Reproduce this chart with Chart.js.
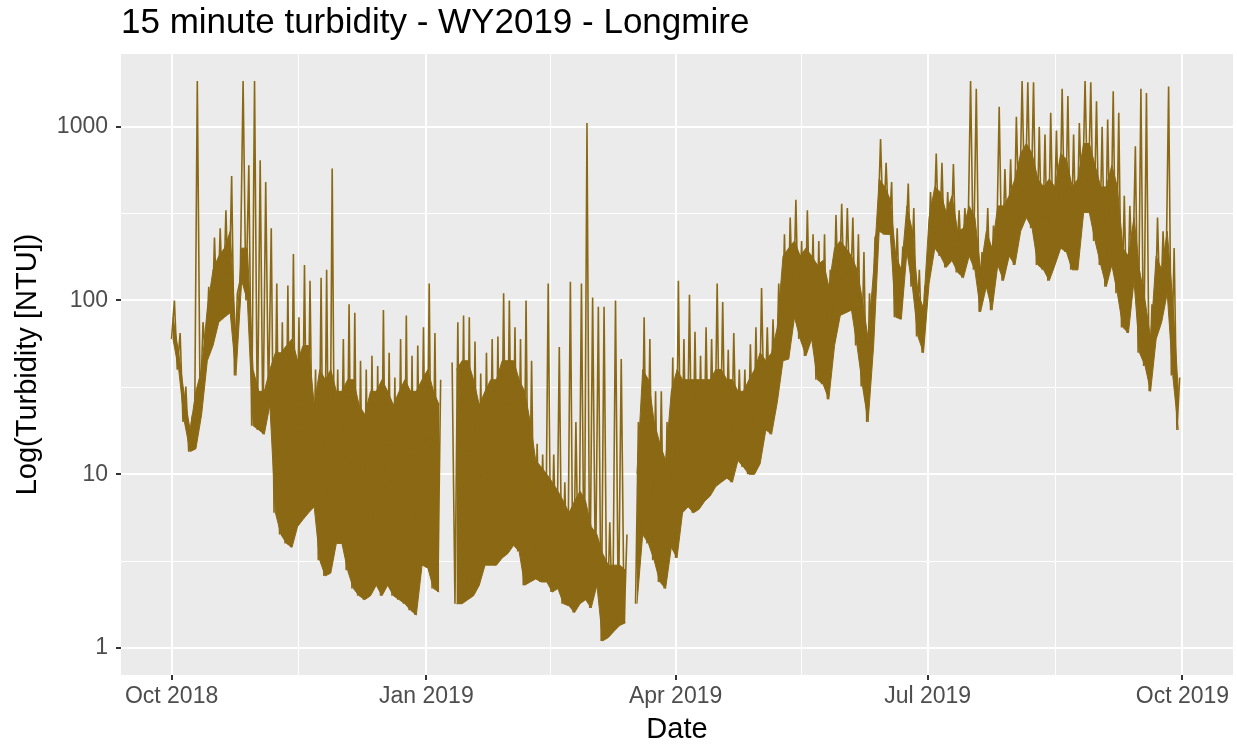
<!DOCTYPE html>
<html>
<head>
<meta charset="utf-8">
<title>15 minute turbidity - WY2019 - Longmire</title>
<script src="https://cdn.jsdelivr.net/npm/chart.js@4.4.1/dist/chart.umd.min.js"></script>
<style>
  html, body { margin: 0; padding: 0; background: #ffffff; }
</style>
</head>
<body>
<canvas id="turbidityChart" width="1237" height="744"></canvas>
<script>
// labels
var chartTitle = "15 minute turbidity - WY2019 - Longmire";
var xTitle = "Date";
var yTitle = "Log(Turbidity [NTU])";

// x axis : days since 1 Oct 2018
var xTickDays = [0, 92, 182, 273, 365];
var xTickLabels = ["Oct 2018", "Jan 2019", "Apr 2019", "Jul 2019", "Oct 2019"];
var xMinorDays = [46, 137, 227.5, 319];

// y axis (log)
var yTickValues = [1, 10, 100, 1000];
var yTickLabels = ["1", "10", "100", "1000"];
var yMinorValues = [3.162, 31.62, 316.2];

// first day of each month, Oct 2018 .. Oct 2019
var monthStartDays = [0, 31, 61, 92, 123, 151, 182, 212, 243, 273, 304, 335, 365];

// about every 2 days :
// low = bottom of the trace, core = top of the solid mass, high = tallest spike
var octLow  = [60, 40, 20, 13.5, 14, 22, 45, 55, 75, 80, 85, 37, 130, 100, 19];
var octCore = [80, 50, 28, 18, 30, 40, 90, 150, 180, 200, 250, 60, 200, 200, 40];
var octHigh = [100, 65, 32, 20, 1830, 75, 120, 230, 260, 330, 520, 110, 1830, 600, 1830];
var novLow  = [18, 17, 25, 6, 4.5, 4, 3.8, 5, 5.5, 6, 6.5, 3.2, 2.6, 2.7, 4];
var novCore = [30, 30, 40, 50, 50, 55, 60, 45, 55, 55, 25, 40, 35, 40, 30];
var novHigh = [640, 480, 260, 125, 75, 122, 185, 80, 160, 130, 40, 135, 150, 575, 40];
var decLow  = [4, 2.8, 2.2, 2.0, 1.9, 2.0, 2.3, 2.0, 2.3, 2.0, 1.9, 1.8, 1.65, 1.55, 3.0];
var decCore = [30, 35, 35, 25, 22, 30, 30, 35, 30, 25, 30, 35, 30, 30, 35];
var decHigh = [60, 95, 85, 45, 40, 48, 42, 88, 50, 36, 60, 82, 48, 55, 70];
var janLow  = [2.9, 2.2, 2.1, null, null, 1.8, 1.8, 1.9, 2.0, 2.3, 3.0, 3.0, 3.0, 3.3, 3.5];
var janCore = [40, 30, 25, null, null, 40, 45, 45, 35, 25, 30, 35, 35, 45, 45];
var janHigh = [125, 65, 35, null, 44, 75, 82, 80, 58, 38, 50, 60, 62, 110, 100];
var febLow  = [3.9, 3.6, 2.3, 2.4, 2.5, 2.4, 2.4, 2.1, 2.2, 1.8, 1.75, 1.6, 1.8, 1.9];
var febCore = [45, 35, 30, 20, 12, 11, 10, 9, 8, 7, 6, 7, 8, 7];
var febHigh = [70, 60, 100, 45, 15, 13, 125, 13, 54, 9, 128, 20, 125, 1050];
var marLow  = [1.7, 2.3, 1.1, 1.15, 1.25, 1.35, 1.4, null, 1.8, 4.5, 4.0, 3.2, 2.4, 2.2, 3.8];
var marCore = [5, 4.5, 3.5, 3, 3, 3, 2.8, null, 10, 40, 35, 20, 15, 12, 30];
var marHigh = [104, 92, 92, 5.3, 100, 46, 4.5, null, 20, 80, 60, 30, 30, 20, 47];
var aprLow  = [3.3, 6.0, 6.5, 6.0, 6.3, 7, 7.5, 8.5, 9, 9.5, 9, 12, 11, 10, 10];
var aprCore = [40, 35, 35, 35, 35, 35, 35, 40, 40, 35, 35, 30, 30, 35, 40];
var aprHigh = [130, 60, 108, 66, 48, 70, 60, 125, 98, 52, 65, 40, 40, 56, 70];
var mayLow  = [11.5, 18, 17, 26, 45, 46, 80, 60, 48, 60, 35, 33, 27, 55, 82];
var mayCore = [50, 45, 50, 70, 180, 200, 220, 180, 200, 180, 160, 170, 120, 200, 220];
var mayHigh = [118, 70, 78, 125, 240, 300, 380, 220, 330, 240, 220, 240, 150, 310, 360];
var junLow  = [85, 88, 55, 32, 20, 55, 250, 240, 240, 80, 78, 190, 120, 62, 50];
var junCore = [200, 180, 150, 100, 60, 150, 500, 450, 380, 180, 150, 350, 250, 110, 90];
var junHigh = [340, 300, 240, 190, 110, 230, 850, 620, 480, 260, 200, 470, 340, 150, 120];
var julLow  = [125, 200, 180, 155, 170, 145, 135, 180, 150, 86, 120, 88, 160, 130, 180];
var julCore = [300, 450, 420, 320, 400, 250, 260, 350, 300, 150, 250, 200, 350, 350, 400];
var julHigh = [420, 700, 620, 420, 610, 330, 340, 1830, 1650, 190, 340, 270, 1300, 570, 650];
var augLow  = [160, 250, 300, 260, 160, 150, 130, 160, 200, 190, 150, 150, 320, 320, 220];
var augCore = [500, 700, 800, 700, 500, 450, 500, 450, 700, 650, 450, 500, 800, 800, 600];
var augHigh = [1140, 1830, 1800, 1800, 1000, 900, 1200, 950, 1650, 1500, 900, 1050, 1830, 1800, 1400];
var sepLow  = [160, 120, 160, 110, 70, 65, 130, 50, 42, 30, 60, 75, 110, 37, 18];
var sepCore = [450, 450, 600, 450, 200, 180, 300, 150, 100, 60, 180, 150, 250, 100, 30];
var sepHigh = [1000, 1100, 1600, 1200, 400, 350, 770, 1650, 1560, 95, 300, 250, 1700, 200, 36];

var monthLows  = [octLow, novLow, decLow, janLow, febLow, marLow, aprLow, mayLow, junLow, julLow, augLow, sepLow];
var monthCores = [octCore, novCore, decCore, janCore, febCore, marCore, aprCore, mayCore, junCore, julCore, augCore, sepCore];
var monthHighs = [octHigh, novHigh, decHigh, janHigh, febHigh, marHigh, aprHigh, mayHigh, junHigh, julHigh, augHigh, sepHigh];

// the trace swings low -> high -> low; the band fills low .. core
var tracePoints = [];
var bandLowPoints = [];
var bandCorePoints = [];
for (var m = 0; m < monthLows.length; m++) {
  var start = monthStartDays[m];
  var step = (monthStartDays[m + 1] - start) / monthLows[m].length;
  for (var i = 0; i < monthLows[m].length; i++) {
    tracePoints.push({ x: start + i * step, y: monthLows[m][i] });
    tracePoints.push({ x: start + (i + 0.5) * step, y: monthHighs[m][i] });
    bandLowPoints.push({ x: start + (i + 0.25) * step, y: monthLows[m][i] });
    bandCorePoints.push({ x: start + (i + 0.25) * step, y: monthCores[m][i] });
  }
}

var fontFamily = "'Liberation Sans', Arial, sans-serif";
var traceColor = "#8B6914";

function isIn(list, v) {
  for (var k = 0; k < list.length; k++) {
    if (Math.abs(list[k] - v) < 1e-6) return true;
  }
  return false;
}

// grey panel behind the grid
var panelPlugin = {
  id: "panel",
  beforeDraw: function (chart) {
    var a = chart.chartArea, c = chart.ctx;
    c.save();
    c.fillStyle = "#FFFFFF";
    c.fillRect(0, 0, chart.width, chart.height);
    c.fillStyle = "#EBEBEB";
    c.fillRect(a.left, a.top, a.right - a.left, a.bottom - a.top);
    c.restore();
  }
};

// title and axis titles, placed like ggplot
var titlesPlugin = {
  id: "titles",
  afterDraw: function (chart) {
    var a = chart.chartArea, c = chart.ctx;
    c.save();
    c.fillStyle = "#000000";
    c.textBaseline = "alphabetic";
    c.font = "35px " + fontFamily;
    c.textAlign = "left";
    c.fillText(chartTitle, a.left, 33);
    c.font = "29px " + fontFamily;
    c.textAlign = "center";
    c.fillText(xTitle, (a.left + a.right) / 2, 738);
    c.translate(36, (a.top + a.bottom) / 2);
    c.rotate(-Math.PI / 2);
    c.fillText(yTitle, 0, 0);
    c.restore();
  }
};

var ctx = document.getElementById("turbidityChart").getContext("2d");
var turbidityChart = new Chart(ctx, {
  type: "line",
  data: {
    datasets: [
      {
        label: "Turbidity",
        data: tracePoints,
        borderColor: traceColor,
        borderWidth: 1.6,
        pointRadius: 0,
        tension: 0,
        fill: false,
        spanGaps: false
      },
      {
        label: "band low",
        data: bandLowPoints,
        borderColor: traceColor,
        borderWidth: 1,
        pointRadius: 0,
        tension: 0,
        fill: false,
        spanGaps: false
      },
      {
        label: "band core",
        data: bandCorePoints,
        borderColor: traceColor,
        backgroundColor: traceColor,
        borderWidth: 1,
        pointRadius: 0,
        tension: 0,
        fill: "-1",
        spanGaps: false
      }
    ]
  },
  options: {
    responsive: false,
    animation: false,
    layout: { padding: { top: 54, right: 4, left: 0, bottom: 0 } },
    plugins: {
      legend: { display: false },
      tooltip: { enabled: false },
      title: { display: false }
    },
    scales: {
      x: {
        type: "linear",
        min: -18.25,
        max: 383.25,
        afterBuildTicks: function (axis) {
          axis.ticks = xTickDays.concat(xMinorDays).sort(function (p, q) { return p - q; })
            .map(function (v) { return { value: v }; });
        },
        afterFit: function (axis) { axis.height = 69; },
        ticks: {
          autoSkip: false,
          maxRotation: 0,
          padding: 3,
          color: "#4D4D4D",
          font: { family: fontFamily, size: 23 },
          callback: function (v) {
            var k = xTickDays.indexOf(v);
            return k >= 0 ? xTickLabels[k] : "";
          }
        },
        grid: {
          color: "#FFFFFF",
          lineWidth: function (c) { return c.tick && isIn(xTickDays, c.tick.value) ? 2 : 1; },
          tickColor: function (c) { return c.tick && isIn(xTickDays, c.tick.value) ? "#333333" : "rgba(0,0,0,0)"; },
          tickLength: 5,
          tickWidth: 2
        },
        border: { display: false }
      },
      y: {
        type: "logarithmic",
        min: 0.7295,
        max: 2618,
        afterBuildTicks: function (axis) {
          axis.ticks = yTickValues.concat(yMinorValues).sort(function (p, q) { return p - q; })
            .map(function (v) { return { value: v }; });
        },
        afterFit: function (axis) { axis.width = 121; },
        ticks: {
          autoSkip: false,
          padding: 8,
          color: "#4D4D4D",
          font: { family: fontFamily, size: 23 },
          callback: function (v) {
            for (var k = 0; k < yTickValues.length; k++) {
              if (Math.abs(yTickValues[k] - v) < 1e-6) return yTickLabels[k];
            }
            return "";
          }
        },
        grid: {
          color: "#FFFFFF",
          lineWidth: function (c) { return c.tick && isIn(yTickValues, c.tick.value) ? 2 : 1; },
          tickColor: function (c) { return c.tick && isIn(yTickValues, c.tick.value) ? "#333333" : "rgba(0,0,0,0)"; },
          tickLength: 5,
          tickWidth: 2
        },
        border: { display: false }
      }
    }
  },
  plugins: [panelPlugin, titlesPlugin]
});
</script>
</body>
</html>
